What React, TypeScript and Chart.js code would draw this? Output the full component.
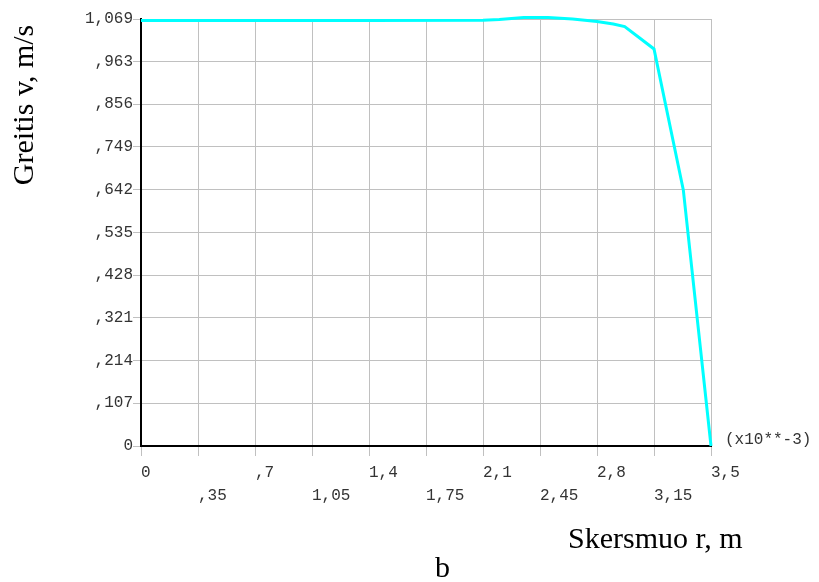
import React, { useEffect, useRef } from "react";
import { Chart, registerables } from "chart.js";

Chart.register(...registerables);

// radius r, in units of 10^-3 m
const rValues = [0, 0.7, 1.4, 2.1, 2.2, 2.35, 2.5, 2.65, 2.8, 2.9, 2.97, 3.06, 3.15, 3.33, 3.5];
// velocity v, m/s
const vValues = [1.065, 1.065, 1.065, 1.066, 1.068, 1.073, 1.073, 1.069, 1.063, 1.0565, 1.05, 1.022, 0.994, 0.641, 0];

const xTickValues = [0, 0.35, 0.7, 1.05, 1.4, 1.75, 2.1, 2.45, 2.8, 3.15, 3.5];
const xTickLabels = ["0", ",35", ",7", "1,05", "1,4", "1,75", "2,1", "2,45", "2,8", "3,15", "3,5"];
const yTickValues = [0, 0.107, 0.214, 0.321, 0.428, 0.535, 0.642, 0.749, 0.856, 0.963, 1.069];
const yTickLabels = ["0", ",107", ",214", ",321", ",428", ",535", ",642", ",749", ",856", ",963", "1,069"];

const yTitle = "Greitis v, m/s";
const xTitle = "Skersmuo r, m";
const xMultiplier = "(x10**-3)";
const caption = "b";

const MONO = '"Liberation Mono", "DejaVu Sans Mono", monospace';
const SERIF = '"Liberation Serif", "DejaVu Serif", serif';

export default function App() {
  const ref = useRef<HTMLCanvasElement | null>(null);

  useEffect(() => {
    if (!ref.current) return;
    const textPlugin = {
      id: "texts",
      afterDraw(chart: any) {
        const ctx = chart.ctx;
        ctx.save();
        ctx.fillStyle = "#000";
        ctx.font = `30px ${SERIF}`;
        ctx.textBaseline = "alphabetic";
        ctx.textAlign = "left";
        ctx.fillText(xTitle, 568, 548);
        ctx.fillText(caption, 435, 577);
        ctx.save();
        ctx.translate(33, 105);
        ctx.rotate(-Math.PI / 2);
        ctx.textAlign = "center";
        ctx.fillText(yTitle, 0, 0);
        ctx.restore();
        ctx.font = `16px ${MONO}`;
        ctx.fillStyle = "#333";
        ctx.textBaseline = "middle";
        ctx.textAlign = "left";
        ctx.fillText(xMultiplier, 725, 440);
        ctx.restore();
      },
    };

    const chart = new Chart(ref.current, {
      type: "line",
      data: {
        datasets: [
          {
            data: rValues.map((r, i) => ({ x: r, y: vValues[i] })),
            borderColor: "#00ffff",
            borderWidth: 3,
            pointRadius: 0,
            tension: 0,
            fill: false,
            clip: false as any,
          },
        ],
      },
      options: {
        animation: false,
        responsive: false,
        layout: { padding: { left: 0, top: 19, right: 108, bottom: 0 } },
        plugins: { legend: { display: false }, tooltip: { enabled: false }, title: { display: false } },
        scales: {
          x: {
            type: "linear",
            min: 0,
            max: 3.5,
            afterBuildTicks: (scale: any) => {
              scale.ticks = xTickValues.map((v) => ({ value: v }));
            },
            afterFit: (scale: any) => {
              scale.height = 136;
            },
            grid: { color: "#c0c0c0", lineWidth: 1, tickLength: 10, tickColor: "#c0c0c0", drawTicks: true },
            border: { display: true, color: "#000", width: 2 },
            ticks: {
              autoSkip: false,
              maxRotation: 0,
              minRotation: 0,
              align: "start",
              padding: 5,
              color: "#333",
              font: { family: MONO, size: 16, lineHeight: 1.4375 },
              callback: (_v: any, i: number) => (i % 2 === 0 ? [xTickLabels[i], ""] : ["", xTickLabels[i]]),
            },
          },
          y: {
            type: "linear",
            min: 0,
            max: 1.069,
            afterBuildTicks: (scale: any) => {
              scale.ticks = yTickValues.map((v) => ({ value: v }));
            },
            afterFit: (scale: any) => {
              scale.width = 141;
            },
            grid: { color: "#c0c0c0", lineWidth: 1, tickLength: 8, tickColor: "#c0c0c0", drawTicks: true },
            border: { display: true, color: "#000", width: 2 },
            ticks: {
              autoSkip: false,
              padding: 0,
              color: "#333",
              font: { family: MONO, size: 16 },
              callback: (_v: any, i: number) => yTickLabels[i],
            },
          },
        },
      },
      plugins: [textPlugin],
    });
    return () => chart.destroy();
  }, []);

  return (
    <div style={{ position: "fixed", left: 0, top: 0, width: 819, height: 582, background: "#fff" }}>
      <canvas ref={ref} width={819} height={582} style={{ width: 819, height: 582, display: "block" }} />
    </div>
  );
}
